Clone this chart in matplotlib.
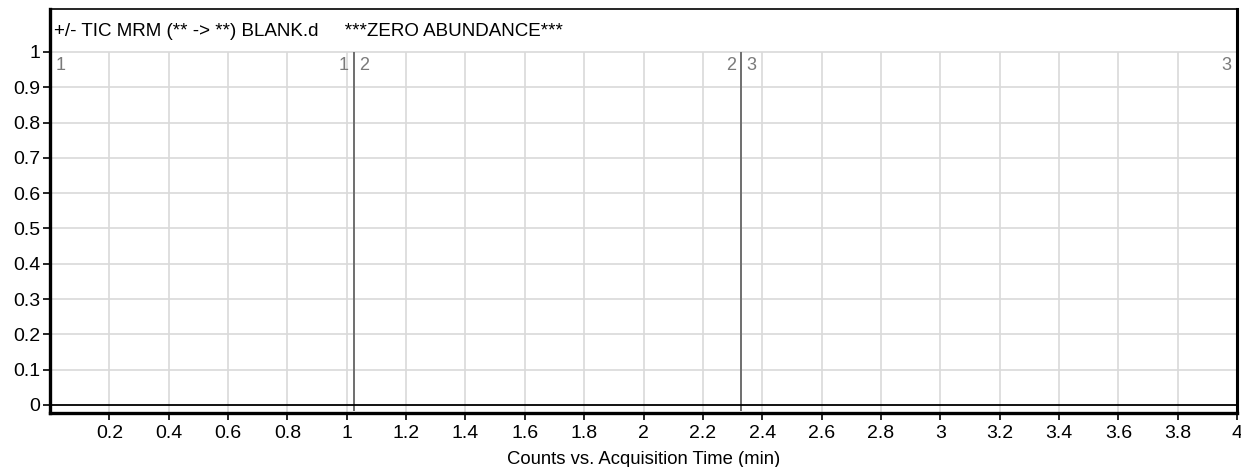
import matplotlib
matplotlib.use("Agg")
import matplotlib.pyplot as plt
import numpy as np

# ---- data ----
x_ticks = [0.2, 0.4, 0.6, 0.8, 1, 1.2, 1.4, 1.6, 1.8, 2, 2.2, 2.4, 2.6, 2.8, 3, 3.2, 3.4, 3.6, 3.8, 4]
x_tick_labels = ["0.2", "0.4", "0.6", "0.8", "1", "1.2", "1.4", "1.6", "1.8", "2", "2.2", "2.4",
                 "2.6", "2.8", "3", "3.2", "3.4", "3.6", "3.8", "4"]
y_ticks = [0, 0.1, 0.2, 0.3, 0.4, 0.5, 0.6, 0.7, 0.8, 0.9, 1]
y_tick_labels = ["0", "0.1", "0.2", "0.3", "0.4", "0.5", "0.6", "0.7", "0.8", "0.9", "1"]
segment_bounds = [1.025, 2.33]          # acquisition segment dividers (min)
segment_starts = [0.0, 1.025, 2.33]
segment_ends = [1.025, 2.33, 4.0]
segment_names = ["1", "2", "3"]
signal_time = [0.0, 4.0]
signal_counts = [0.0, 0.0]
title_text = "+/- TIC MRM (** -> **) BLANK.d     ***ZERO ABUNDANCE***"
x_label = "Counts vs. Acquisition Time (min)"

plt.rcParams['font.family'] = ['Liberation Sans', 'DejaVu Sans']

W, H = 1241, 467
fig = plt.figure(figsize=(W / 100, H / 100), dpi=100)
ax = fig.add_axes([50 / W, (H - 413) / H, (1237 - 50) / W, (413 - 9) / H])

ymin, ymax = -0.0227, 1.1218
ax.set_xlim(0, 4.0)
ax.set_ylim(ymin, ymax)

grid_c = "#d9d9d9"
for xt in x_ticks[:-1]:
    ax.vlines(xt, ymin, 1.0, color=grid_c, lw=1.2, zorder=1)
for yt in y_ticks[1:]:
    ax.axhline(yt, color=grid_c, lw=1.2, zorder=1)

# segment dividers
for b in segment_bounds:
    ax.vlines(b, ymin + 0.006, 1.0, color="#6e6e6e", lw=1.4, zorder=3)

# segment labels
lab_kw = dict(color="#7a7a7a", fontsize=13, va="center", zorder=4)
for s, e, n in zip(segment_starts, segment_ends, segment_names):
    ax.text(s + 0.018, 0.963, n, ha="left", **lab_kw)
    ax.text(e - 0.018, 0.963, n, ha="right", **lab_kw)

# signal (zero abundance)
ax.plot(signal_time, signal_counts, color="black", lw=1.3, zorder=5)

# title inside header band
ax.text(0.013, 1.058, title_text, ha="left", va="center", fontsize=13.5, color="black")

ax.set_xticks(x_ticks)
ax.set_xticklabels(x_tick_labels)
ax.set_yticks(y_ticks)
ax.set_yticklabels(y_tick_labels)
ax.tick_params(axis="both", direction="out", length=5, width=1.2, colors="black",
               labelsize=14)
ax.tick_params(axis="x", pad=4)
ax.tick_params(axis="y", pad=2)

for side in ["top", "right"]:
    ax.spines[side].set_linewidth(1.2)
for side in ["left", "bottom"]:
    ax.spines[side].set_linewidth(2.4)
ax.spines["right"].set_linewidth(2.2)

ax.set_xlabel(x_label, fontsize=13.3, labelpad=6)

fig.savefig("out.png", dpi=100, facecolor="white")
